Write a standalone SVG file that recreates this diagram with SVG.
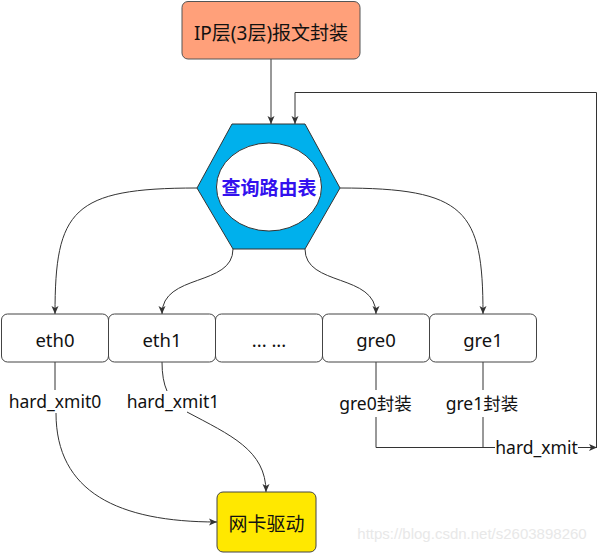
<svg xmlns="http://www.w3.org/2000/svg" width="602" height="553" viewBox="0 0 602 553">
<defs>
<style>
.t{font-family:"Noto Sans","Noto Sans CJK SC",sans-serif;fill:#111;text-anchor:middle}
.box{fill:#fff;stroke:#444;stroke-width:1}
.ln{fill:none;stroke:#333;stroke-width:1}
.arr{marker-end:url(#ah)}
</style>
<marker id="ah" markerUnits="userSpaceOnUse" markerWidth="9" markerHeight="8" refX="8" refY="4" orient="auto">
<path d="M0,0.5 L8,4 L0,7.5 L2,4 Z" fill="#333"/>
</marker>
</defs>
<rect width="602" height="553" fill="#fff"/>
<text x="472" y="539" font-family="Liberation Sans,sans-serif" font-size="15" fill="#e8e8e8" text-anchor="middle">https://blog.csdn.net/s2603898260</text>

<g id="connectors">
<path class="ln arr" d="M271,59 V124"/>
<path class="ln arr" d="M596.5,447 V92.5 H295 V124"/>
<path class="ln arr" d="M197,188 C72,188 55,210 55,314"/>
<path class="ln arr" d="M233,249 C233,287 162,273 162,314"/>
<path class="ln arr" d="M305,249 C305,287 376,273 376,314"/>
<path class="ln arr" d="M340,188 C466,188 483,210 483,314"/>
<path class="ln" d="M55,362 V390"/>
<path class="ln arr" d="M56,413 C56,492 118,522 217,522"/>
<path class="ln" d="M162,362 Q162,380 167,391"/>
<path class="ln arr" d="M187,412 C230,435 266,450 266,492"/>
<path class="ln" d="M376,362 V390 M376,417 V447.5 H495 M483,362 V390 M483,417 V447.5"/>
<path class="ln arr" d="M578,447.5 H597"/>
</g>

<g id="ip">
<rect x="182" y="1.5" width="178" height="57.5" rx="6" fill="#ffa07a" stroke="#555"/>
<text class="t" x="271" y="39.5" font-size="19">IP层(3层)报文封装</text>
</g>
<g id="route">
<polygon points="232,124 305,124 340,188 305,249 233,249 197,188" fill="#00b0ec" stroke="#333"/>
<ellipse cx="269" cy="187" rx="52.5" ry="44" fill="#fff" stroke="#333"/>
<text class="t" x="269" y="195" font-size="19" font-weight="bold" style="fill:#3311ee">查询路由表</text>
</g>
<g id="eth0"><rect class="box" x="1.5" y="314" width="107" height="48" rx="6"/><text class="t" x="55" y="347" font-size="18.5">eth0</text></g>
<g id="eth1"><rect class="box" x="108.5" y="314" width="107" height="48" rx="6"/><text class="t" x="162" y="347" font-size="18.5">eth1</text></g>
<g id="dots"><rect class="box" x="215.5" y="314" width="107" height="48" rx="6"/><text class="t" x="269" y="347" font-size="18.5">... ...</text></g>
<g id="gre0"><rect class="box" x="322.5" y="314" width="107" height="48" rx="6"/><text class="t" x="376" y="347" font-size="18.5">gre0</text></g>
<g id="gre1"><rect class="box" x="429.5" y="314" width="107" height="48" rx="6"/><text class="t" x="483" y="347" font-size="18.5">gre1</text></g>
<g id="nic">
<rect x="217" y="492" width="99" height="60" rx="6" fill="#ffe800" stroke="#444"/>
<text class="t" x="266.5" y="531" font-size="19">网卡驱动</text>
</g>
<g id="labels">
<text class="t" x="55" y="408" font-size="17.5">hard_xmit0</text>
<text class="t" x="173" y="408" font-size="17.5">hard_xmit1</text>
<text class="t" x="375.5" y="410" font-size="17.5">gre0封装</text>
<text class="t" x="482" y="410" font-size="17.5">gre1封装</text>
<text class="t" x="536.5" y="453.5" font-size="17.5">hard_xmit</text>
</g>
</svg>
